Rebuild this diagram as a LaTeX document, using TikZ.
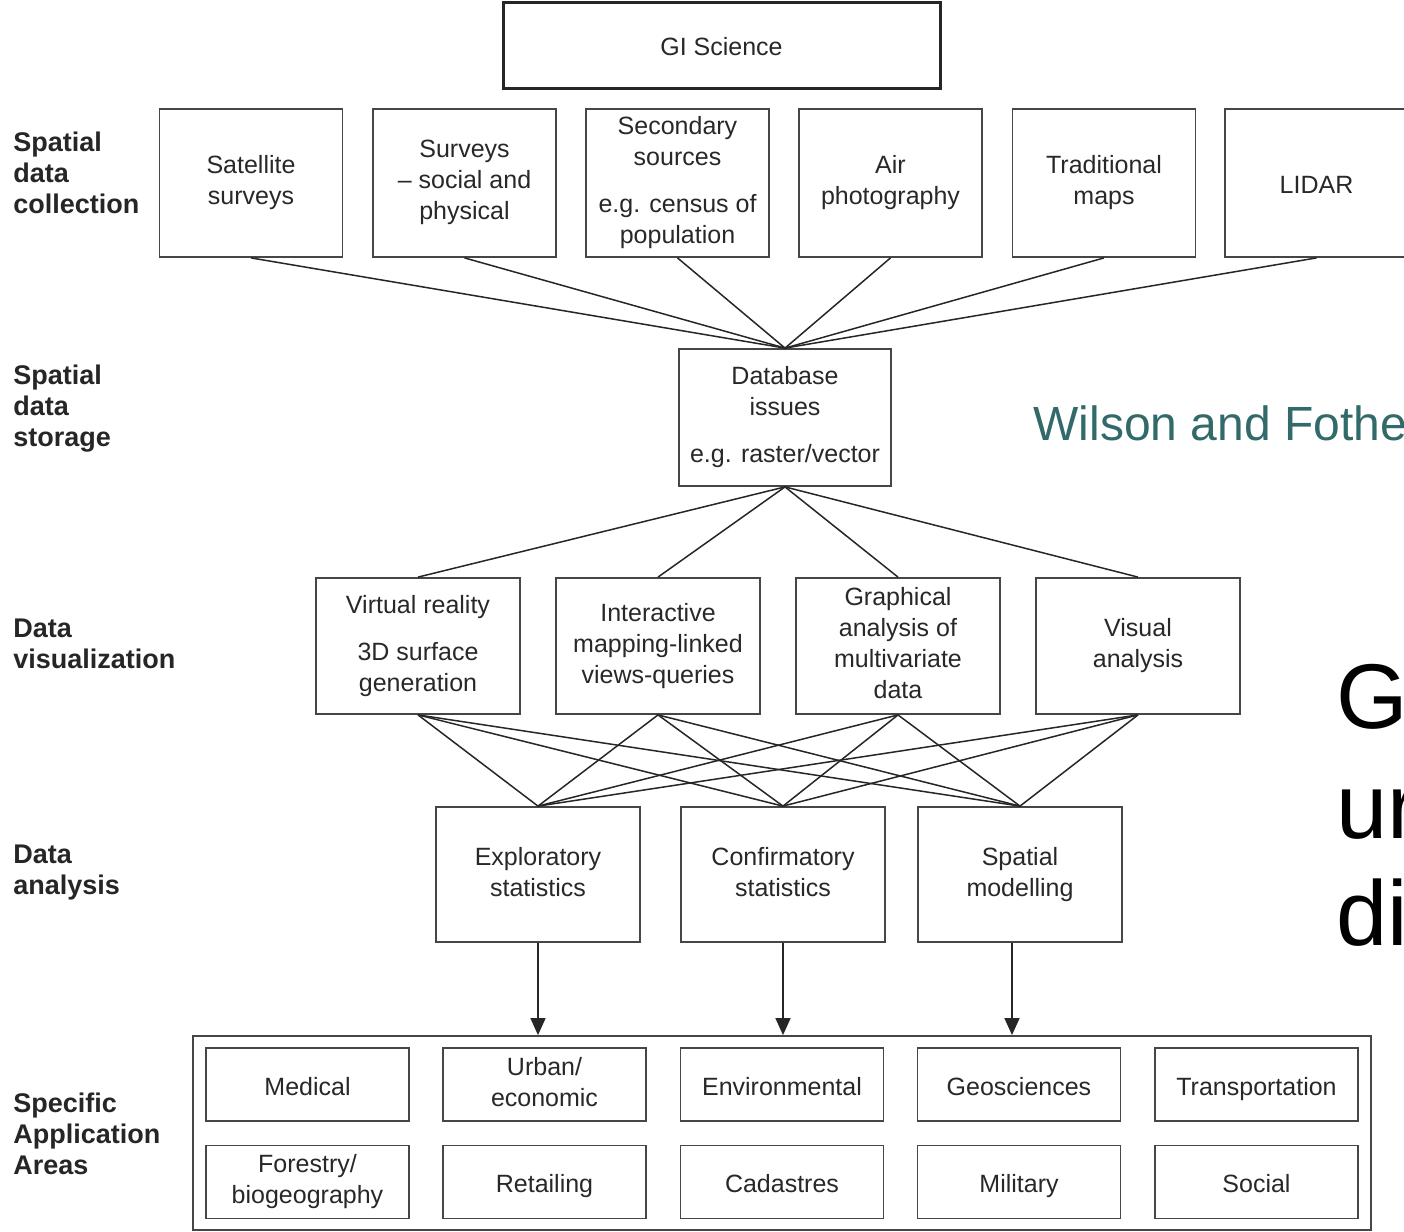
\documentclass[tikz,border=0pt]{standalone}
\usepackage{fontspec}
\setmainfont{Liberation Sans}
\usetikzlibrary{arrows.meta}
\definecolor{teal2}{RGB}{50,105,105}
\definecolor{boxline}{RGB}{70,70,70}
\definecolor{txt}{RGB}{40,40,40}
\newcommand\mytopstrut{\rule{0pt}{13.3pt}}
\newcommand\mybotstrut{\rule[-2.8pt]{0pt}{2.8pt}}
\begin{document}
\begin{tikzpicture}[x=0.5pt,y=-0.5pt,
 bx/.style={draw=boxline, line width=0.9pt, fill=white, inner sep=0pt, align=center, text=txt, font=\fontsize{12.5}{15.5}\selectfont, execute at begin node=\mytopstrut, execute at end node=\mybotstrut},
 rowone/.style={bx, minimum width=91.5pt, minimum height=74pt},
 vizbox/.style={bx, minimum width=102pt, minimum height=68pt},
 anbox/.style={bx, minimum width=102pt, minimum height=67.5pt},
 apbox/.style={bx, minimum width=101.5pt, minimum height=36.5pt},
 lab/.style={anchor=west, align=left, inner sep=0pt, font=\bfseries\fontsize{13.5}{15.5}\selectfont, text=black!85},
 ln/.style={draw=black!85, line width=0.75pt},
 arr/.style={ln, -{Triangle[length=8.5pt,width=7.5pt]}}]
\useasboundingbox (0,0) rectangle (1404,1232);
% top
\node[bx, line width=1.5pt, draw=black!85, minimum width=218.5pt, minimum height=43pt] (gis) at (721.5,45) {GI Science};
% row 1
\node[rowone] (sat) at (251,183) {Satellite\\surveys};
\node[rowone] (surv) at (464.5,183) {Surveys\\– social and\\physical};
\node[rowone] (sec) at (677.5,183) {Secondary\\sources\\[8pt]e.g. census of\\population};
\node[rowone] (air) at (890.5,183) {Air\\photography};
\node[rowone] (trad) at (1104,183) {Traditional\\maps};
\node[rowone] (lidar) at (1316.5,183) {LIDAR};
% database
\node[bx, minimum width=106pt, minimum height=68.5pt] (db) at (785,417.5) {Database\\issues\\[8pt]e.g. raster/vector};
% visualization
\node[vizbox] (vr) at (418,646) {Virtual reality\\[8pt]3D surface\\generation};
\node[vizbox] (ia) at (658,646) {Interactive\\mapping-linked\\views-queries};
\node[vizbox] (ga) at (898,646) {Graphical\\analysis of\\multivariate\\data};
\node[vizbox] (va) at (1138,646) {Visual\\analysis};
% analysis
\node[anbox] (ex) at (538,874.5) {Exploratory\\statistics};
\node[anbox] (cf) at (783,874.5) {Confirmatory\\statistics};
\node[anbox] (sm) at (1020,874.5) {Spatial\\modelling};
% application areas
\node[draw=boxline, line width=0.9pt, minimum width=589pt, minimum height=97pt, inner sep=0pt] (outer) at (782,1133) {};
\node[apbox] (med) at (307.5,1084.5) {Medical};
\node[apbox] (urb) at (544.5,1084.5) {Urban/\\economic};
\node[apbox] (env) at (782,1084.5) {Environmental};
\node[apbox] (geo) at (1019,1084.5) {Geosciences};
\node[apbox] (tra) at (1256.5,1084.5) {Transportation};
\node[apbox] (for) at (307.5,1182) {Forestry/\\biogeography};
\node[apbox] (ret) at (544.5,1182) {Retailing};
\node[apbox] (cad) at (782,1182) {Cadastres};
\node[apbox] (mil) at (1019,1182) {Military};
\node[apbox] (soc) at (1256.5,1182) {Social};
% connectors
\foreach \n in {sat,surv,sec,air,trad,lidar} \draw[ln] (\n.south) -- (db.north);
\foreach \n in {vr,ia,ga,va} \draw[ln] (db.south) -- (\n.north);
\foreach \n in {vr,ia,ga,va} \foreach \m in {ex,cf,sm} \draw[ln] (\n.south) -- (\m.north);
\coordinate (smo) at ([xshift=-4pt]sm.south);
\draw[arr] (ex.south) -- (ex.south |- outer.north);
\draw[arr] (cf.south) -- (cf.south |- outer.north);
\draw[arr] (smo) -- (smo |- outer.north);
% left labels
\node[lab] (l1) at (13,173) {Spatial\\data\\collection};
\node[lab] (l2) at (13,409) {Spatial\\data\\storage};
\node[lab] (l3) at (13,644) {Data\\visualization};
\node[lab] (l4) at (13,873) {Data\\analysis};
\node[lab] (l5) at (13,1134) {Specific\\Application\\Areas};
% overlay texts
\node[anchor=base west, inner sep=0pt, text=teal2, font=\fontsize{24}{28}\selectfont] (wf) at (1033,440) {Wilson and Fothe};
\node[anchor=base west, inner sep=0pt, font=\fontsize{46}{54}\selectfont] (g1) at (1336,728) {G};
\node[anchor=base west, inner sep=0pt, font=\fontsize{46}{54}\selectfont] (g2) at (1336,838) {ur};
\node[anchor=base west, inner sep=0pt, font=\fontsize{46}{54}\selectfont] (g3) at (1336,945) {di};
\end{tikzpicture}
\end{document}
